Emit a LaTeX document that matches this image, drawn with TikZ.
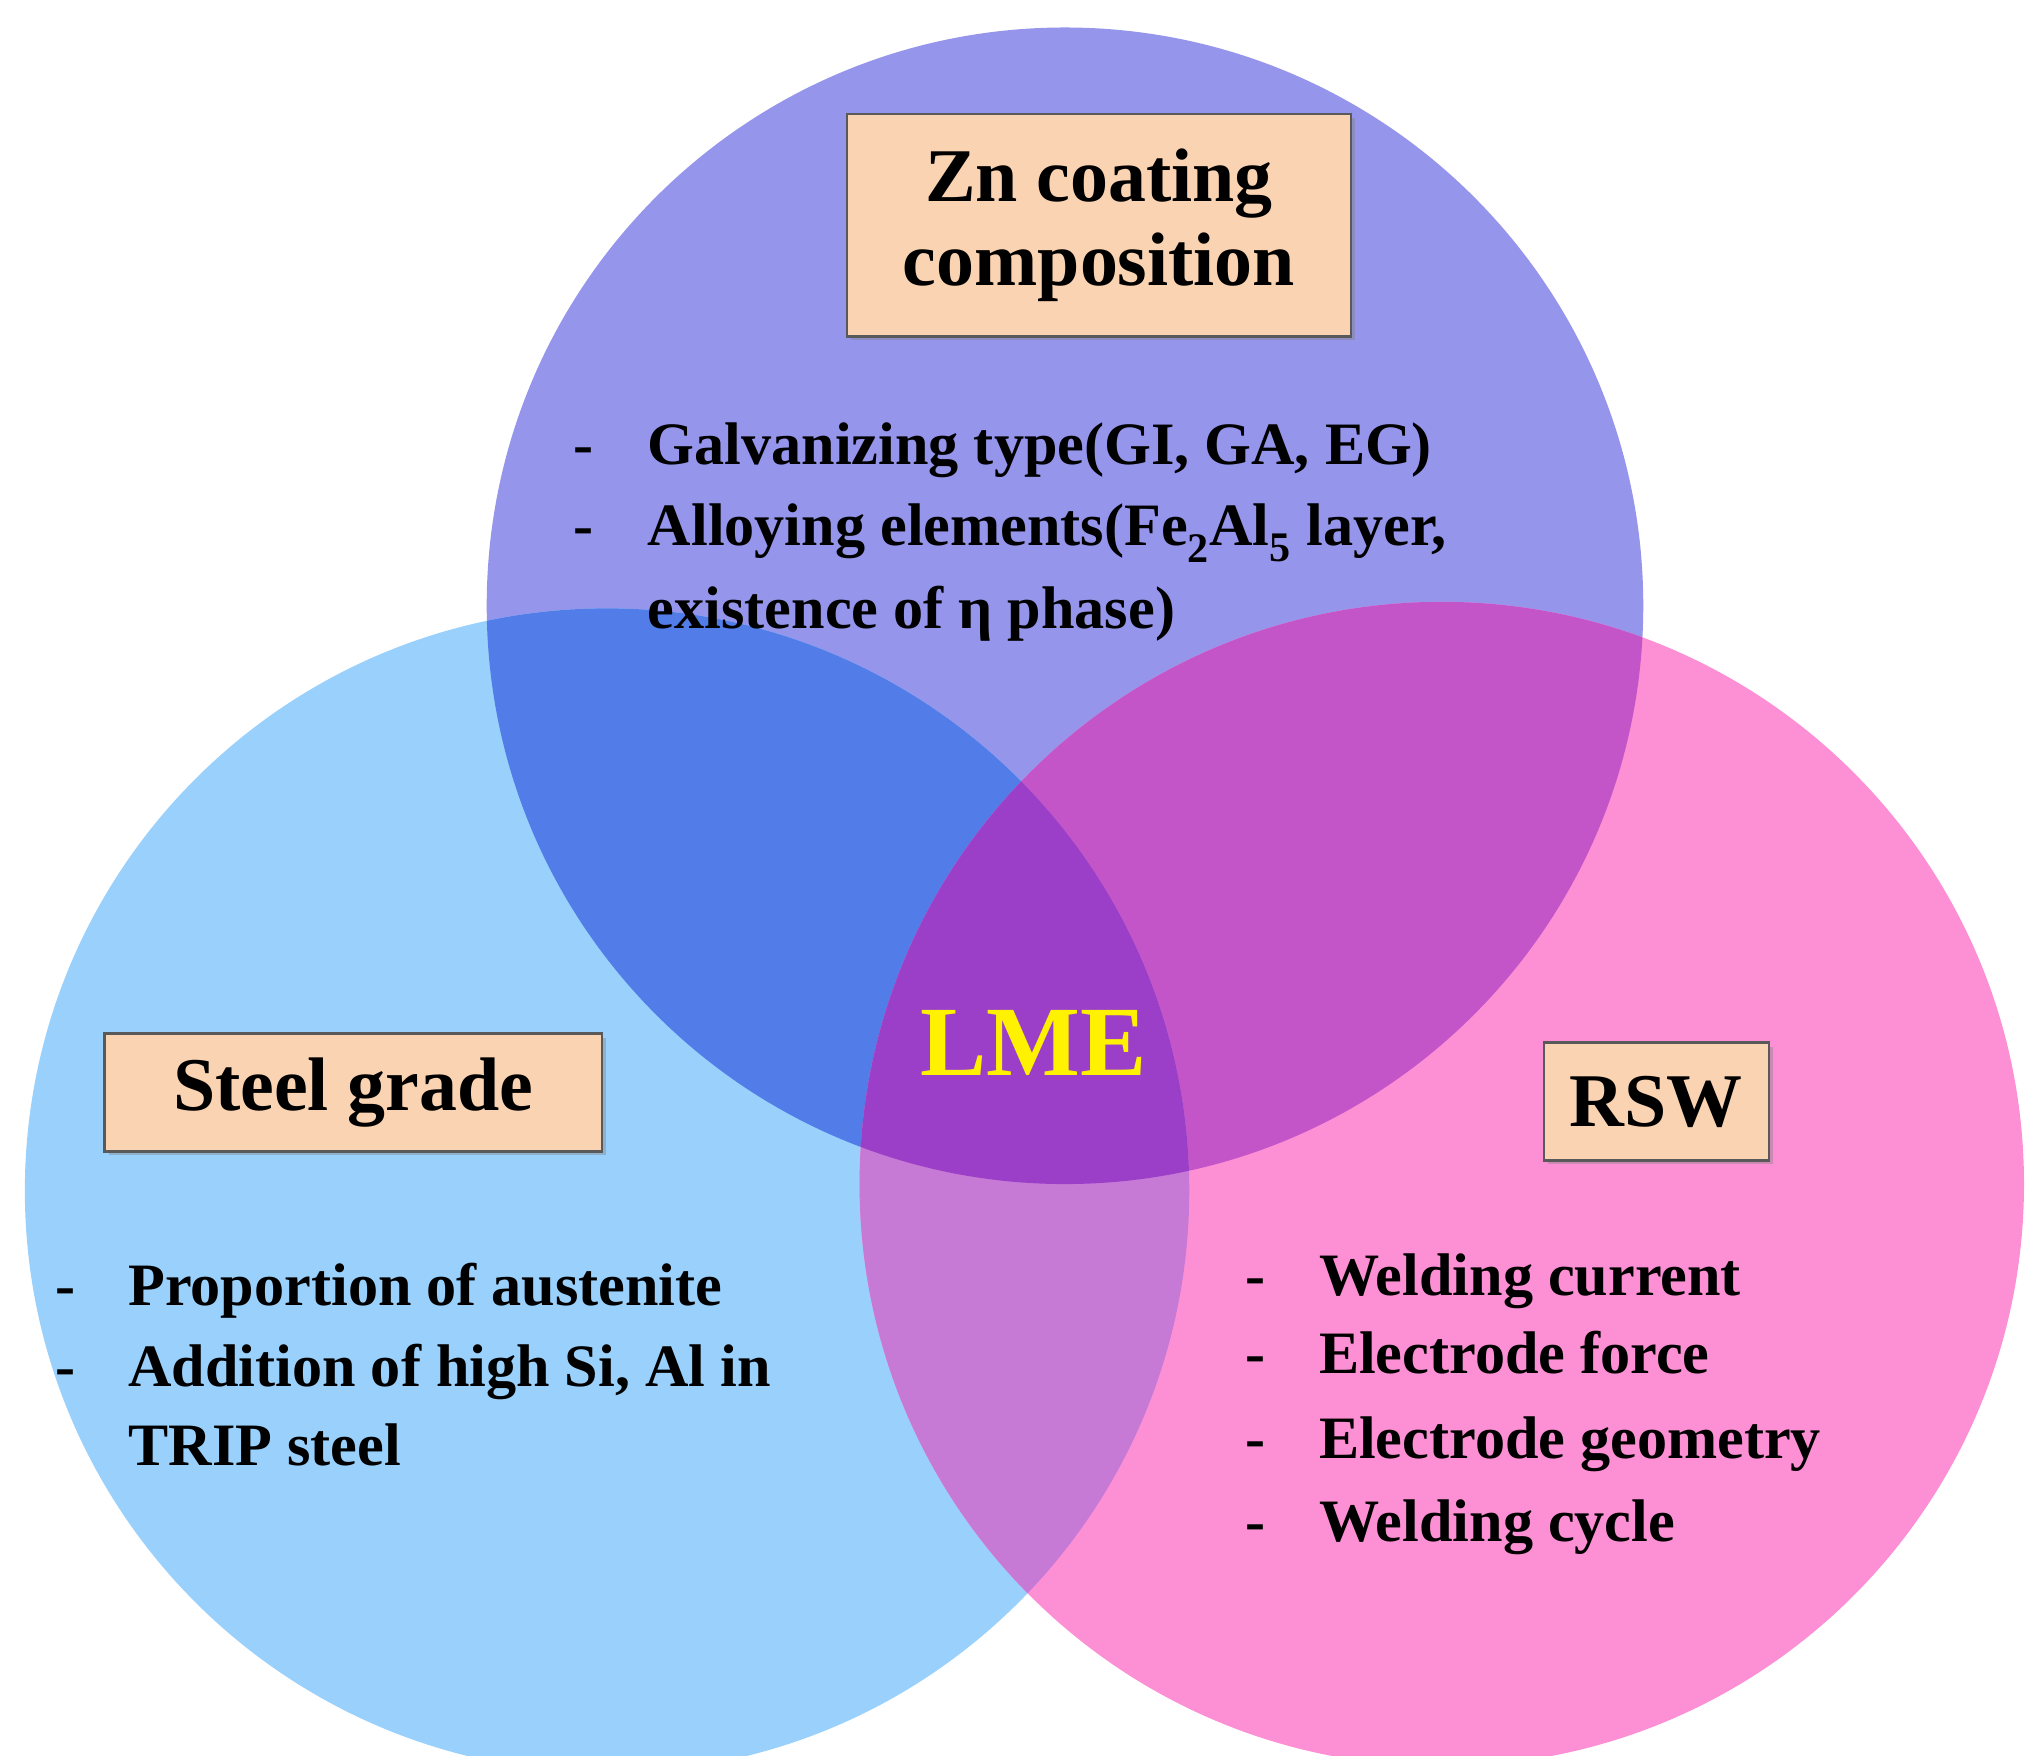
\documentclass[tikz,border=0pt]{standalone}
\usepackage{fontspec}
\setmainfont{Liberation Serif}
\usetikzlibrary{shadows}
\definecolor{cT}{HTML}{9595EC}
\definecolor{cL}{HTML}{99D1FC}
\definecolor{cR}{HTML}{FD90D5}
\definecolor{cTL}{HTML}{527DE8}
\definecolor{cTR}{HTML}{C455C8}
\definecolor{cLR}{HTML}{C77AD5}
\definecolor{cC}{HTML}{9B3FC8}
\definecolor{peach}{HTML}{FAD3B2}
\begin{document}
\begin{tikzpicture}[x=1pt,y=-1pt,
  box/.style={draw=gray!70!black,line width=2pt,fill=peach,drop shadow={shadow xshift=3pt,shadow yshift=-3pt,opacity=.4},font=\fontsize{58}{64}\selectfont\bfseries,align=center,inner sep=0pt},
  item/.style={anchor=base west,font=\fontsize{46}{52}\selectfont\bfseries,inner sep=0pt},
  bullet dash/.style={anchor=base west,font=\fontsize{46}{52}\selectfont\bfseries,inner sep=0pt}]
\useasboundingbox (0,0) rectangle (1560,1342);
\def\myct{(814,463) circle[radius=442]}
\def\mycl{(464,910) circle[radius=445]}
\def\mycr{(1102,905) circle[radius=445]}
\fill[cT] \myct; \fill[cL] \mycl; \fill[cR] \mycr;
\begin{scope}\clip \myct; \fill[cTL] \mycl; \fill[cTR] \mycr; \end{scope}
\begin{scope}\clip \mycl; \fill[cLR] \mycr; \end{scope}
\begin{scope}\clip \myct; \clip \mycl; \fill[cC] \mycr; \end{scope}
\node[box,minimum width=385,minimum height=170] (zn) at (840,172) {Zn coating\\composition};
\node[box,minimum width=380,minimum height=90] (sg) at (270,835) {Steel grade};
\node[box,minimum width=172,minimum height=90] (rsw) at (1266,842) {RSW};
\node[font=\fontsize{76}{80}\selectfont\bfseries,text=yellow] (lme) at (790,797) {LME};
\node[bullet dash] (d1) at (438,355) {-};
\node[item] (t1) at (495,355) {Galvanizing type(GI, GA, EG)};
\node[bullet dash] (d2) at (438,417) {-};
\node[item] (t2) at (495,417) {Alloying elements(Fe\textsubscript{2}Al\textsubscript{5} layer,};
\node[item] (t3) at (495,480) {existence of η phase)};
\node[bullet dash] (d3) at (42,998) {-};
\node[item] (l1) at (98,998) {Proportion of austenite};
\node[bullet dash] (d4) at (42,1060) {-};
\node[item] (l2) at (98,1060) {Addition of high Si, Al in};
\node[item] (l3) at (98,1120) {TRIP steel};
\node[bullet dash] (d5) at (952,990) {-};
\node[item] (r1) at (1008,990) {Welding current};
\node[bullet dash] (d6) at (952,1050) {-};
\node[item] (r2) at (1008,1050) {Electrode force};
\node[bullet dash] (d7) at (952,1115) {-};
\node[item] (r3) at (1008,1115) {Electrode geometry};
\node[bullet dash] (d8) at (952,1178) {-};
\node[item] (r4) at (1008,1178) {Welding cycle};
\end{tikzpicture}
\end{document}
